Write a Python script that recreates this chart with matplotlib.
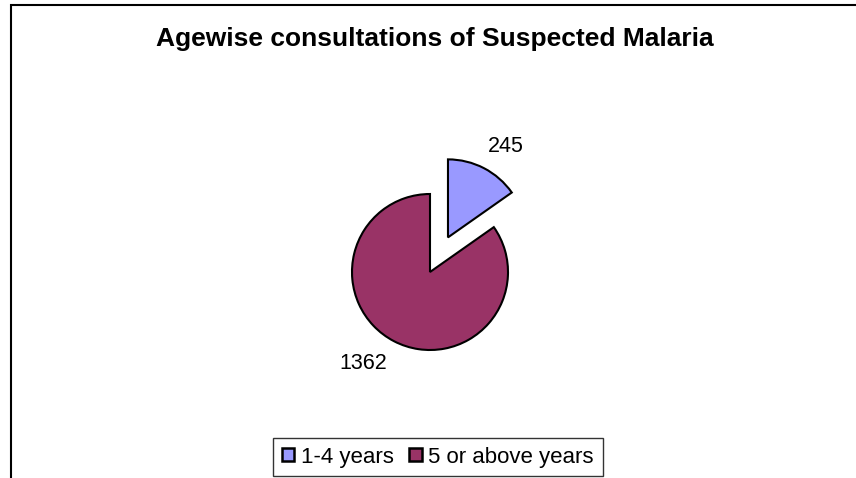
import matplotlib.pyplot as plt
from matplotlib.patches import Rectangle, Patch
from matplotlib.transforms import offset_copy

labels = ["1-4 years", "5 or above years"]
values = [245, 1362]
colors = ["#9999FF", "#993366"]

W, H = 856, 478
fig = plt.figure(figsize=(W / 100, H / 100), dpi=100)
plt.rcParams['font.family'] = ['Liberation Sans', 'DejaVu Sans']

# outer chart border (cropped at right and bottom)
fig.patches.append(Rectangle((11 / W, -0.1), 1.2, 1.1 - 5 / H, transform=fig.transFigure,
                             fill=False, edgecolor='black', linewidth=1.5))

fig.text(435 / W, 1 - 39 / H, "Agewise consultations of Suspected Malaria",
         ha='center', va='center', fontsize=19, fontweight='bold')

# pie axes: centre (430, 272) px, radius 78 px
r = 78
aw, ah = 400, 300
cx, cy = 430, 272
ax = fig.add_axes([(cx - aw / 2) / W, 1 - (cy + ah / 2) / H, aw / W, ah / H])
wedges, texts = ax.pie(values, colors=colors, startangle=90, counterclock=False,
                       explode=[0.5, 0], labels=[str(v) for v in values],
                       labeldistance=1.38,
                       wedgeprops=dict(edgecolor='black', linewidth=1.5),
                       textprops=dict(fontsize=15.5))
# excel places the labels a bit more sideways
nudges = [(8, -5), (-17, 4)]
for t, (dx, dy) in zip(texts, nudges):
    t.set_ha('center')
    t.set_va('center')
    t.set_transform(offset_copy(t.get_transform(), fig=fig, x=dx, y=dy, units='dots'))
ax.set_xlim(-aw / 2 / r, aw / 2 / r)
ax.set_ylim(-ah / 2 / r, ah / 2 / r)
ax.axis('off')

handles = [Patch(facecolor=c, edgecolor='black', linewidth=1.8) for c in colors]
fig.legend(handles, labels, loc='center', bbox_to_anchor=(438 / W, 1 - 457 / H),
           ncol=2, fontsize=16, frameon=True, fancybox=False, edgecolor='black',
           handlelength=0.55, handleheight=0.55, handletextpad=0.3, columnspacing=0.7,
           borderpad=0.4)

fig.savefig("out.png", dpi=100, facecolor='white')
